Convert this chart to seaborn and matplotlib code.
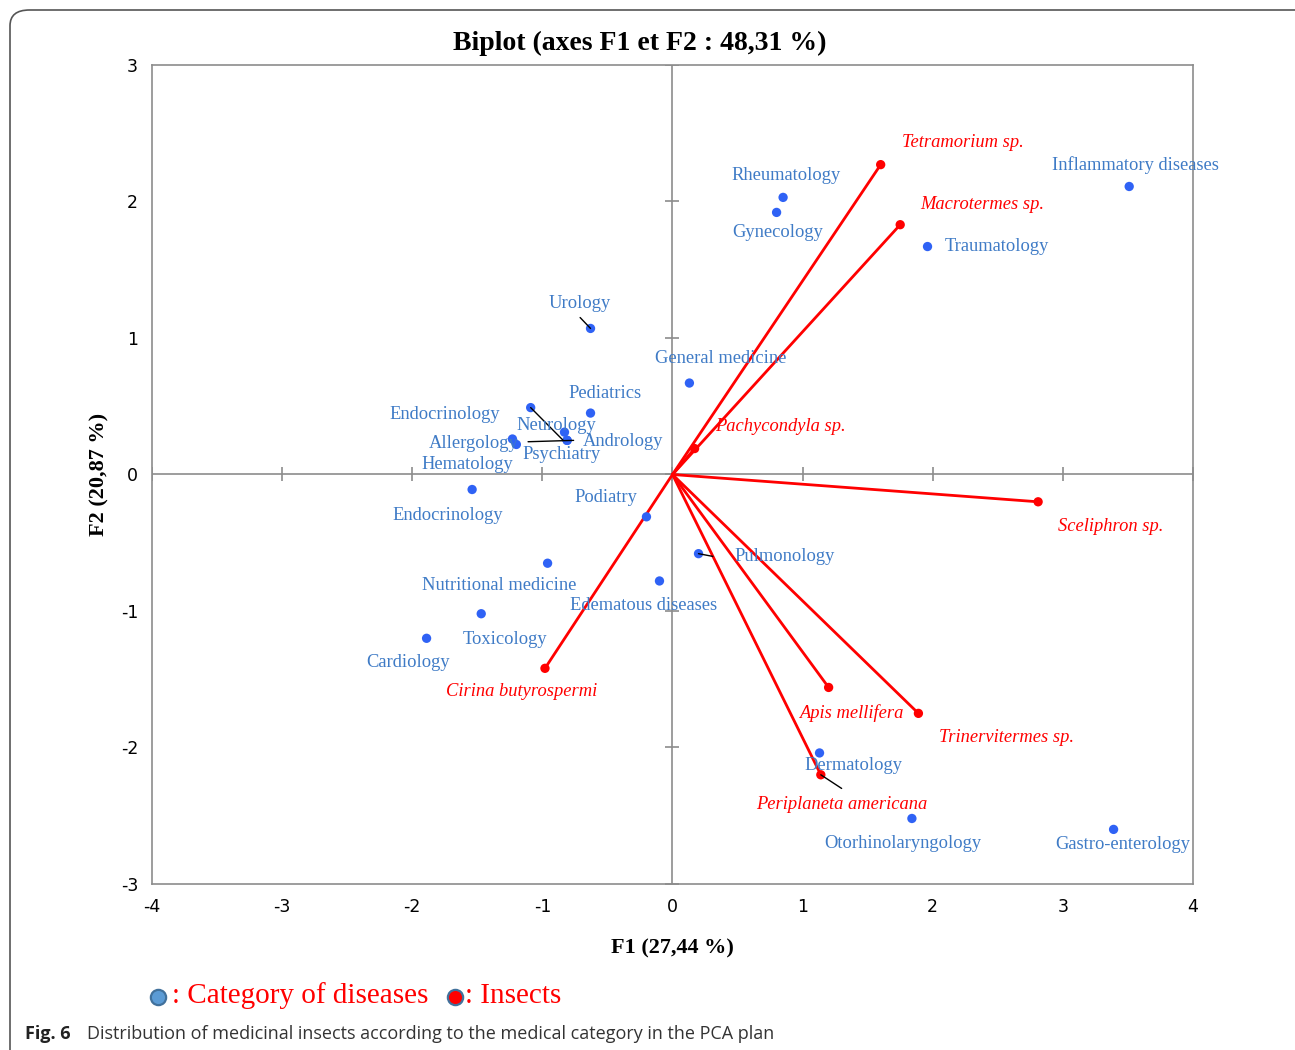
import matplotlib
matplotlib.use("Agg")
import matplotlib.pyplot as plt
from matplotlib.patches import FancyBboxPatch
from matplotlib.lines import Line2D
import seaborn as sns
import pandas as pd

# ------------------ Data ------------------
disease_names = ["Inflammatory diseases", "Rheumatology", "Gynecology", "Traumatology",
                 "Urology", "General medicine", "Pediatrics", "Endocrinology",
                 "Neurology", "Andrology", "Psychiatry", "Allergology", "Hematology",
                 "Endocrinology", "Podiatry", "Pulmonology", "Edematous diseases",
                 "Nutritional medicine", "Toxicology", "Cardiology", "Dermatology",
                 "Otorhinolaryngology", "Gastro-enterology"]
disease_f1 = [3.51, 0.85, 0.80, 1.96, -0.63, 0.13, -0.63, -1.09, -0.83, -0.81, -0.81,
              -1.23, -1.20, -1.54, -0.20, 0.20, -0.10, -0.96, -1.47, -1.89, 1.13,
              1.84, 3.39]
disease_f2 = [2.11, 2.03, 1.92, 1.67, 1.07, 0.67, 0.45, 0.49, 0.31, 0.25, 0.25,
              0.26, 0.22, -0.11, -0.31, -0.58, -0.78, -0.65, -1.02, -1.20, -2.04,
              -2.52, -2.60]

insect_names = ["Tetramorium sp.", "Macrotermes sp.", "Pachycondyla sp.", "Sceliphron sp.",
                "Apis mellifera", "Trinervitermes sp.", "Periplaneta americana",
                "Cirina butyrospermi"]
insect_f1 = [1.60, 1.75, 0.17, 2.81, 1.20, 1.89, 1.14, -0.98]
insect_f2 = [2.27, 1.83, 0.19, -0.20, -1.56, -1.75, -2.20, -1.42]

x_ticks = [-4, -3, -2, -1, 0, 1, 2, 3, 4]
y_ticks = [-3, -2, -1, 0, 1, 2, 3]

# label placement (data coords), same order as the names above
disease_label_pos = [(3.56, 2.27), (0.87, 2.19), (0.81, 1.77), (2.49, 1.67),
                     (-0.71, 1.25), (0.37, 0.85), (-0.52, 0.59), (-1.75, 0.44),
                     (-0.89, 0.36), (-0.38, 0.24), (-0.85, 0.15), (-1.53, 0.23),
                     (-1.58, 0.07), (-1.73, -0.30), (-0.51, -0.17), (0.86, -0.60),
                     (-0.22, -0.96), (-1.33, -0.81), (-1.29, -1.21), (-2.03, -1.38),
                     (1.39, -2.13), (1.77, -2.70), (3.46, -2.71)]
insect_label_pos = [(2.23, 2.43), (2.38, 1.98), (0.83, 0.35), (3.37, -0.38),
                    (1.37, -1.75), (2.57, -1.93), (1.30, -2.42), (-1.16, -1.59)]

diseases = pd.DataFrame({"F1": disease_f1, "F2": disease_f2, "name": disease_names})
insects = pd.DataFrame({"F1": insect_f1, "F2": insect_f2, "name": insect_names})

# ------------------ Plot ------------------
sns.set_theme(style="white")
plt.rcParams["font.family"] = ["Liberation Serif", "DejaVu Serif"]
plt.rcParams["axes.unicode_minus"] = False
plt.rcParams["text.color"] = "black"
plt.rcParams["axes.labelcolor"] = "black"
plt.rcParams["xtick.color"] = "black"
plt.rcParams["ytick.color"] = "black"

fig = plt.figure(figsize=(12.95, 10.5), dpi=100)
ax = fig.add_axes([0.1174, 0.1581, 0.8038, 0.78])

# centre axes with small cross ticks
ax.axhline(0, color="#8c8c8c", lw=1.2, zorder=1)
ax.axvline(0, color="#8c8c8c", lw=1.2, zorder=1)
ax.plot(x_ticks, [0] * len(x_ticks), ls="none", marker="|", ms=10,
        color="#8c8c8c", mew=1.2, zorder=1)
ax.plot([0] * len(y_ticks), y_ticks, ls="none", marker="_", ms=10,
        color="#8c8c8c", mew=1.2, zorder=1)

# insect vectors
for x, y in zip(insect_f1, insect_f2):
    ax.plot([0, x], [0, y], color="#ff0000", lw=2, zorder=2)

sns.scatterplot(data=diseases, x="F1", y="F2", color="#2f62f5", s=45,
                edgecolor="none", ax=ax, zorder=3)
sns.scatterplot(data=insects, x="F1", y="F2", color="#ff0000", s=45,
                edgecolor="none", ax=ax, zorder=3)

for name, (lx, ly) in zip(disease_names, disease_label_pos):
    ax.text(lx, ly, name, color="#3f7bc6", fontsize=13.3, ha="center", va="center", zorder=4)
for name, (lx, ly) in zip(insect_names, insect_label_pos):
    ax.text(lx, ly, name, color="#ff0000", fontsize=13.3, style="italic",
            ha="center", va="center", zorder=4)

# leader lines
leaders = [((-0.71, 1.15), (-0.63, 1.07)),
           ((-1.09, 0.49), (-0.84, 0.25)),
           ((-1.11, 0.24), (-0.76, 0.25)),
           ((0.20, -0.58), (0.31, -0.60)),
           ((1.14, -2.20), (1.30, -2.30))]
for (x0, y0), (x1, y1) in leaders:
    ax.plot([x0, x1], [y0, y1], color="black", lw=1, zorder=3)

ax.set_xlim(-4, 4)
ax.set_ylim(-3, 3)
ax.set_xticks(x_ticks)
ax.set_yticks(y_ticks)
ax.tick_params(labelsize=12.5, length=0, pad=10)
for lab in ax.get_xticklabels() + ax.get_yticklabels():
    lab.set_family("DejaVu Sans")
for sp in ax.spines.values():
    sp.set_color("#8c8c8c")
    sp.set_linewidth(1.2)

ax.set_xlabel("F1 (27,44 %)", fontsize=16, fontweight="bold", labelpad=16)
ax.set_ylabel("F2 (20,87 %)", fontsize=16, fontweight="bold", labelpad=8)
fig.text(640 / 1295, 1 - 43 / 1050, "Biplot (axes F1 et F2 : 48,31 %)",
         fontsize=20, fontweight="bold", ha="center", va="center")

# legend line under the chart
fig.add_artist(Line2D([158 / 1295], [1 - 997 / 1050], marker="o", ms=11,
                      markerfacecolor="#5b9bd5", markeredgecolor="#41719c", mew=1.6,
                      transform=fig.transFigure))
fig.text(172 / 1295, 1 - 996 / 1050, ": Category of diseases", color="#ff0000",
         fontsize=21, va="center", ha="left")
fig.add_artist(Line2D([455 / 1295], [1 - 997 / 1050], marker="o", ms=11,
                      markerfacecolor="#ff0000", markeredgecolor="#41719c", mew=1.6,
                      transform=fig.transFigure))
fig.text(465 / 1295, 1 - 996 / 1050, ": Insects", color="#ff0000",
         fontsize=21, va="center", ha="left")

# caption
fig.text(25 / 1295, 1 - 1034 / 1050, "Fig. 6", family="Open Sans", fontweight="bold",
         fontsize=13, color="#222222", va="center")
fig.text(87 / 1295, 1 - 1034 / 1050,
         "Distribution of medicinal insects according to the medical category in the PCA plan",
         family="Open Sans", fontsize=13, color="#333333", va="center")

# rounded frame around the figure
fig.patches.append(FancyBboxPatch((10 / 1295, -0.05), 1.2, 1 - 10 / 1050 + 0.05,
                                  boxstyle="round,pad=0,rounding_size=0.015",
                                  transform=fig.transFigure, facecolor="none",
                                  edgecolor="#555555", lw=1.2, figure=fig))

fig.savefig("out.png", dpi=100)
